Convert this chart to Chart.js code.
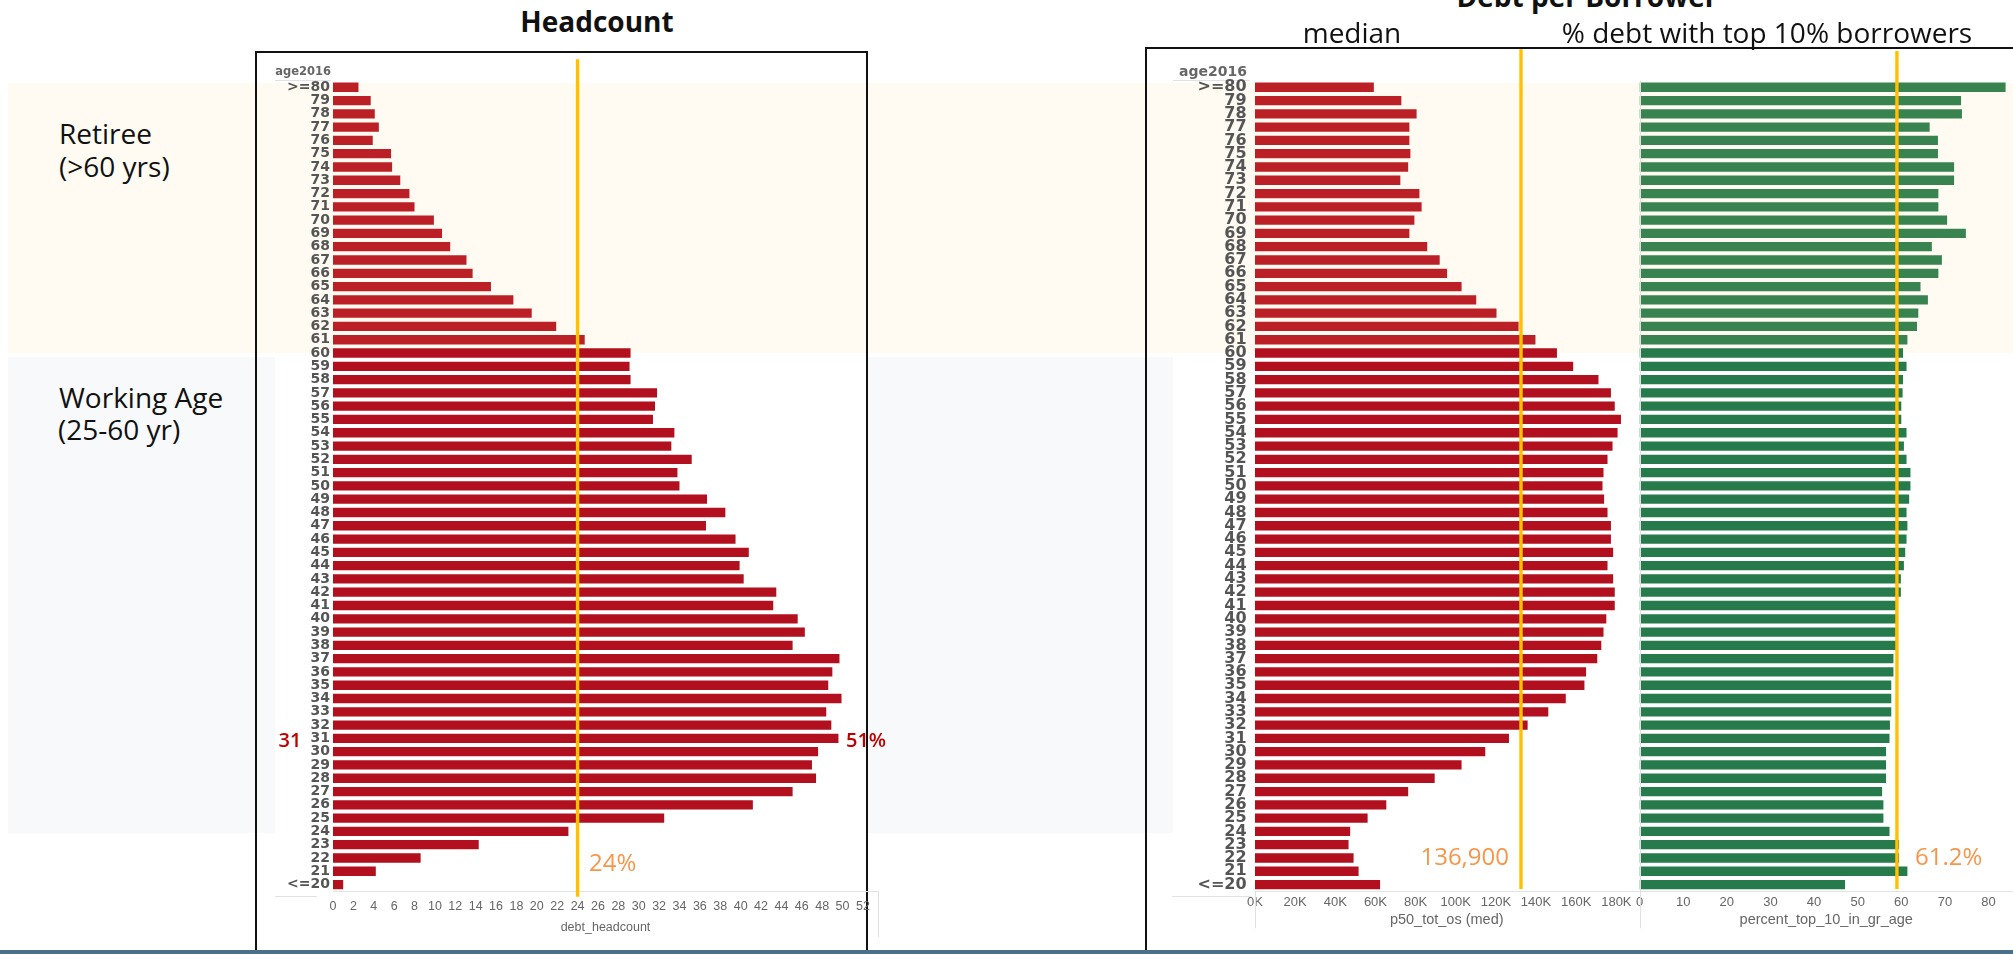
<!DOCTYPE html>
<html>
<head>
<meta charset="utf-8">
<script src="https://cdn.jsdelivr.net/npm/chart.js@4.4.1/dist/chart.umd.min.js"></script>
<style>
html,body{margin:0;padding:0;background:#fff;}
body{width:2013px;height:954px;position:relative;overflow:hidden;font-family:'Open Sans',sans-serif;}
.abs{position:absolute;}
.t{position:absolute;white-space:nowrap;line-height:1;}
canvas{position:absolute;}
</style>
</head>
<body>
<!-- background bands -->
<div class="abs" style="left:8px;top:83px;width:2005px;height:270px;background:#fffbf3"></div>
<div class="abs" style="left:8px;top:357px;width:267px;height:476px;background:#f8f9fb"></div>
<div class="abs" style="left:866px;top:357px;width:307px;height:476px;background:#f8f9fb"></div>
<!-- frames -->
<div class="abs" style="left:255px;top:51px;width:609px;height:920px;border:2px solid #111;border-bottom:none"></div>
<div class="abs" style="left:1145px;top:47px;width:900px;height:920px;border-left:2px solid #111;border-top:2px solid #111"></div>
<div class="abs" style="left:0;top:950px;width:2013px;height:4px;background:#4a7189"></div>
<!-- header dividers -->
<div class="abs" style="left:275px;top:80px;width:56px;height:1px;background:#e2e2e2"></div>
<div class="abs" style="left:1173px;top:80px;width:77px;height:1px;background:#e2e2e2"></div>
<div class="abs" style="left:275px;top:896px;width:42px;height:1px;background:#e2e2e2"></div>
<div class="abs" style="left:1172px;top:896px;width:79px;height:1px;background:#e2e2e2"></div>

<canvas id="cL" width="642" height="898" style="left:258px;top:56px"></canvas>
<canvas id="cR" width="490" height="909" style="left:1150px;top:45px"></canvas>
<canvas id="cG" width="393" height="909" style="left:1620px;top:45px"></canvas>

<!-- texts -->
<div class="t" style="left:297px;width:600px;text-align:center;top:7.4px;font-size:28px;font-weight:700;color:#111">Headcount</div>
<div class="t" style="left:1287px;width:600px;text-align:center;top:-17.9px;font-size:28px;font-weight:700;color:#111">Debt per Borrower</div>
<div class="t" style="left:1152px;width:400px;text-align:center;top:17.6px;font-size:28px;color:#111">median</div>
<div class="t" style="left:1467px;width:600px;text-align:center;top:17.6px;font-size:28px;color:#111">% debt with top 10% borrowers</div>

<div class="t" style="left:59px;top:119px;font-size:28px;color:#111">Retiree</div>
<div class="t" style="left:59px;top:152px;font-size:28px;color:#111">(&gt;60 yrs)</div>
<div class="t" style="left:59px;top:383px;font-size:28px;color:#111">Working Age</div>
<div class="t" style="left:58px;top:415px;font-size:28px;color:#111">(25-60 yr)</div>

<div class="t" style="left:278.6px;top:730px;font-size:20px;font-weight:600;color:#c00000">31</div>
<div class="t" style="left:846px;top:730px;font-size:20px;font-weight:600;color:#c00000">51%</div>
<div class="t" style="left:589px;top:850.4px;font-size:24px;color:#f7964a">24%</div>
<div class="t" style="left:1309px;width:200px;text-align:right;top:843.7px;font-size:24px;color:#f7964a">136,900</div>
<div class="t" style="left:1915px;top:843.7px;font-size:24px;color:#f7964a">61.2%</div>

<div class="t" style="left:231px;width:100px;text-align:right;top:65.8px;font-family:'DejaVu Sans';font-weight:700;font-size:11.5px;color:#666">age2016</div>
<div class="t" style="left:1147px;width:100px;text-align:right;top:63.7px;font-family:'DejaVu Sans';font-weight:700;font-size:14px;color:#666">age2016</div>

<script>
// ---------------- data ----------------
const ageLabels = ['>=80','79','78','77','76','75','74','73','72','71','70','69','68','67','66','65','64','63','62','61',
  '60','59','58','57','56','55','54','53','52','51','50','49','48','47','46','45','44','43','42','41',
  '40','39','38','37','36','35','34','33','32','31','30','29','28','27','26','25','24','23','22','21','<=20'];

const debtHeadcount = [2.5,3.7,4.1,4.5,3.9,5.7,5.8,6.6,7.5,8.0,9.9,10.7,11.5,13.1,13.7,15.5,17.7,19.5,21.9,24.7,
  29.2,29.1,29.2,31.8,31.6,31.4,33.5,33.2,35.2,33.8,34.0,36.7,38.5,36.6,39.5,40.8,39.9,40.3,43.5,43.2,
  45.6,46.3,45.1,49.7,49.0,48.6,49.9,48.4,48.9,49.6,47.6,47.0,47.4,45.1,41.2,32.5,23.1,14.3,8.6,4.2,1.0];

// median debt per borrower, in thousands
const medianDebtK = [59.2,72.9,80.5,76.9,76.9,77.4,76.3,72.4,81.9,83.0,79.4,76.9,85.8,92.0,95.7,102.9,110.2,120.3,131.3,139.7,
  150.4,158.5,171.1,177.3,179.2,182.3,180.6,178.1,175.6,173.6,173.1,173.9,175.6,177.3,177.3,178.4,175.6,178.4,179.2,179.2,
  175.0,173.6,172.5,170.5,164.9,164.1,154.8,146.1,135.8,126.5,114.7,102.9,89.5,76.3,65.4,56.1,47.4,46.6,49.1,51.6,62.3];

const pctTop10 = [83.9,73.7,73.9,66.5,68.4,68.4,72.1,72.1,68.5,68.5,70.5,74.8,67.0,69.3,68.5,64.4,66.1,63.9,63.6,61.4,
  60.4,61.2,60.4,60.3,60.0,60.0,61.2,60.6,61.2,62.1,62.1,61.8,61.2,61.4,61.2,60.9,60.6,59.9,59.9,59.0,
  59.0,58.7,59.0,58.2,58.2,57.7,57.7,57.7,57.4,57.3,56.5,56.5,56.5,55.6,55.9,55.9,57.3,59.5,59.5,61.4,47.1];

const headcountRefLine = 24;
const medianRefLineK = 132.5;
const top10RefLine = 59.0;
const retireeCount = 20; // '>=80' .. '61'

// ---------------- styling ----------------
const RED_RET = '#bb2026', RED_WORK = '#b20f1f';
const GRN_RET = '#398350', GRN_WORK = '#267a4b';
const SANS = "'Liberation Sans', Arial, sans-serif";

const decor = {
  id: 'decor',
  afterDatasetsDraw(chart, args, o) {
    const ctx = chart.ctx, a = chart.chartArea, xs = chart.scales.x;
    ctx.save();
    (o.seps || []).forEach(s => {
      const x = Math.round(s.side === 'right' ? a.right : a.left) + 0.5;
      ctx.strokeStyle = '#e0e0e0'; ctx.lineWidth = 1;
      ctx.beginPath();
      ctx.moveTo(x, (s.fromTop ? a.top : a.bottom) + s.d0);
      ctx.lineTo(x, a.bottom + s.d1);
      ctx.stroke();
    });
    if (o.ref != null) {
      const x = xs.getPixelForValue(o.ref);
      ctx.strokeStyle = '#ffc000'; ctx.lineWidth = 3.4;
      ctx.beginPath();
      ctx.moveTo(x, a.top + o.refTop);
      ctx.lineTo(x, a.bottom + o.refBottom);
      ctx.stroke();
    }
    ctx.restore();
  }
};

function makeChart(id, values, colRet, colWork, cfg) {
  return new Chart(document.getElementById(id), {
    type: 'bar',
    data: {
      labels: ageLabels,
      datasets: [{
        data: values,
        backgroundColor: c => c.dataIndex < retireeCount ? colRet : colWork,
        borderWidth: 0,
        barPercentage: 0.7,
        categoryPercentage: 1.0
      }]
    },
    options: {
      indexAxis: 'y',
      responsive: false,
      devicePixelRatio: 1,
      animation: false,
      layout: { padding: cfg.padding },
      plugins: {
        legend: { display: false },
        tooltip: { enabled: false },
        decor: cfg.decor
      },
      scales: {
        y: {
          display: cfg.yDisplay,
          grid: { display: false, drawTicks: false },
          border: { display: false },
          ticks: {
            autoSkip: false, padding: cfg.yPad, color: '#555',
            font: { family: "'DejaVu Sans', sans-serif", weight: 'bold', size: cfg.ySize }
          },
          afterFit: s => { s.width = cfg.yWidth; }
        },
        x: {
          type: 'linear', min: 0, max: cfg.xMax,
          grid: { display: false, drawTicks: false },
          border: { display: true, color: '#e3e3e3' },
          ticks: {
            stepSize: cfg.step, includeBounds: false, autoSkip: false, maxRotation: 0,
            padding: cfg.xPad, color: '#666',
            font: { family: SANS, size: cfg.xSize },
            callback: cfg.fmt
          },
          title: {
            display: true, text: cfg.title, color: '#666',
            font: { family: SANS, size: cfg.titleSize },
            padding: { top: 0, bottom: cfg.titlePad }
          },
          afterFit: s => { s.height = cfg.xHeight; }
        }
      }
    },
    plugins: [decor]
  });
}

makeChart('cL', debtHeadcount, RED_RET, RED_WORK, {
  padding: { left: 0, right: 22, top: 24.6, bottom: 12.8 },
  yDisplay: true, yWidth: 75, yPad: 3, ySize: 14,
  xMax: 53.48, step: 2, xPad: 8.2, xSize: 12.5, xHeight: 50,
  fmt: v => String(v),
  title: 'debt_headcount', titleSize: 12.5, titlePad: 5.8,
  decor: { ref: headcountRefLine, refTop: -21.3, refBottom: 5.5,
           seps: [{ side: 'right', fromTop: false, d0: 0, d1: 46 }] }
});

makeChart('cR', medianDebtK, RED_RET, RED_WORK, {
  padding: { left: 0, right: 1.5, top: 35.6, bottom: 17.8 },
  yDisplay: true, yWidth: 105, yPad: 8.4, ySize: 16,
  xMax: 191.03, step: 20, xPad: 3.7, xSize: 13, xHeight: 45,
  fmt: v => v + 'K',
  title: 'p50_tot_os (med)', titleSize: 14.5, titlePad: 7.5,
  decor: { ref: medianRefLineK, refTop: -31.3, refBottom: -2.2,
           seps: [{ side: 'left', fromTop: false, d0: 0, d1: 37 }] }
});

makeChart('cG', pctTop10, GRN_RET, GRN_WORK, {
  padding: { left: 19.5, right: 0, top: 35.6, bottom: 17.8 },
  yDisplay: false, yWidth: 0, yPad: 0, ySize: 15,
  xMax: 85.6, step: 10, xPad: 3.7, xSize: 13, xHeight: 45,
  fmt: v => String(v),
  title: 'percent_top_10_in_gr_age', titleSize: 14.5, titlePad: 7.5,
  decor: { ref: top10RefLine, refTop: -29.6, refBottom: -2.2,
           seps: [{ side: 'left', fromTop: true, d0: 0, d1: 37 }] }
});
</script>
</body>
</html>
